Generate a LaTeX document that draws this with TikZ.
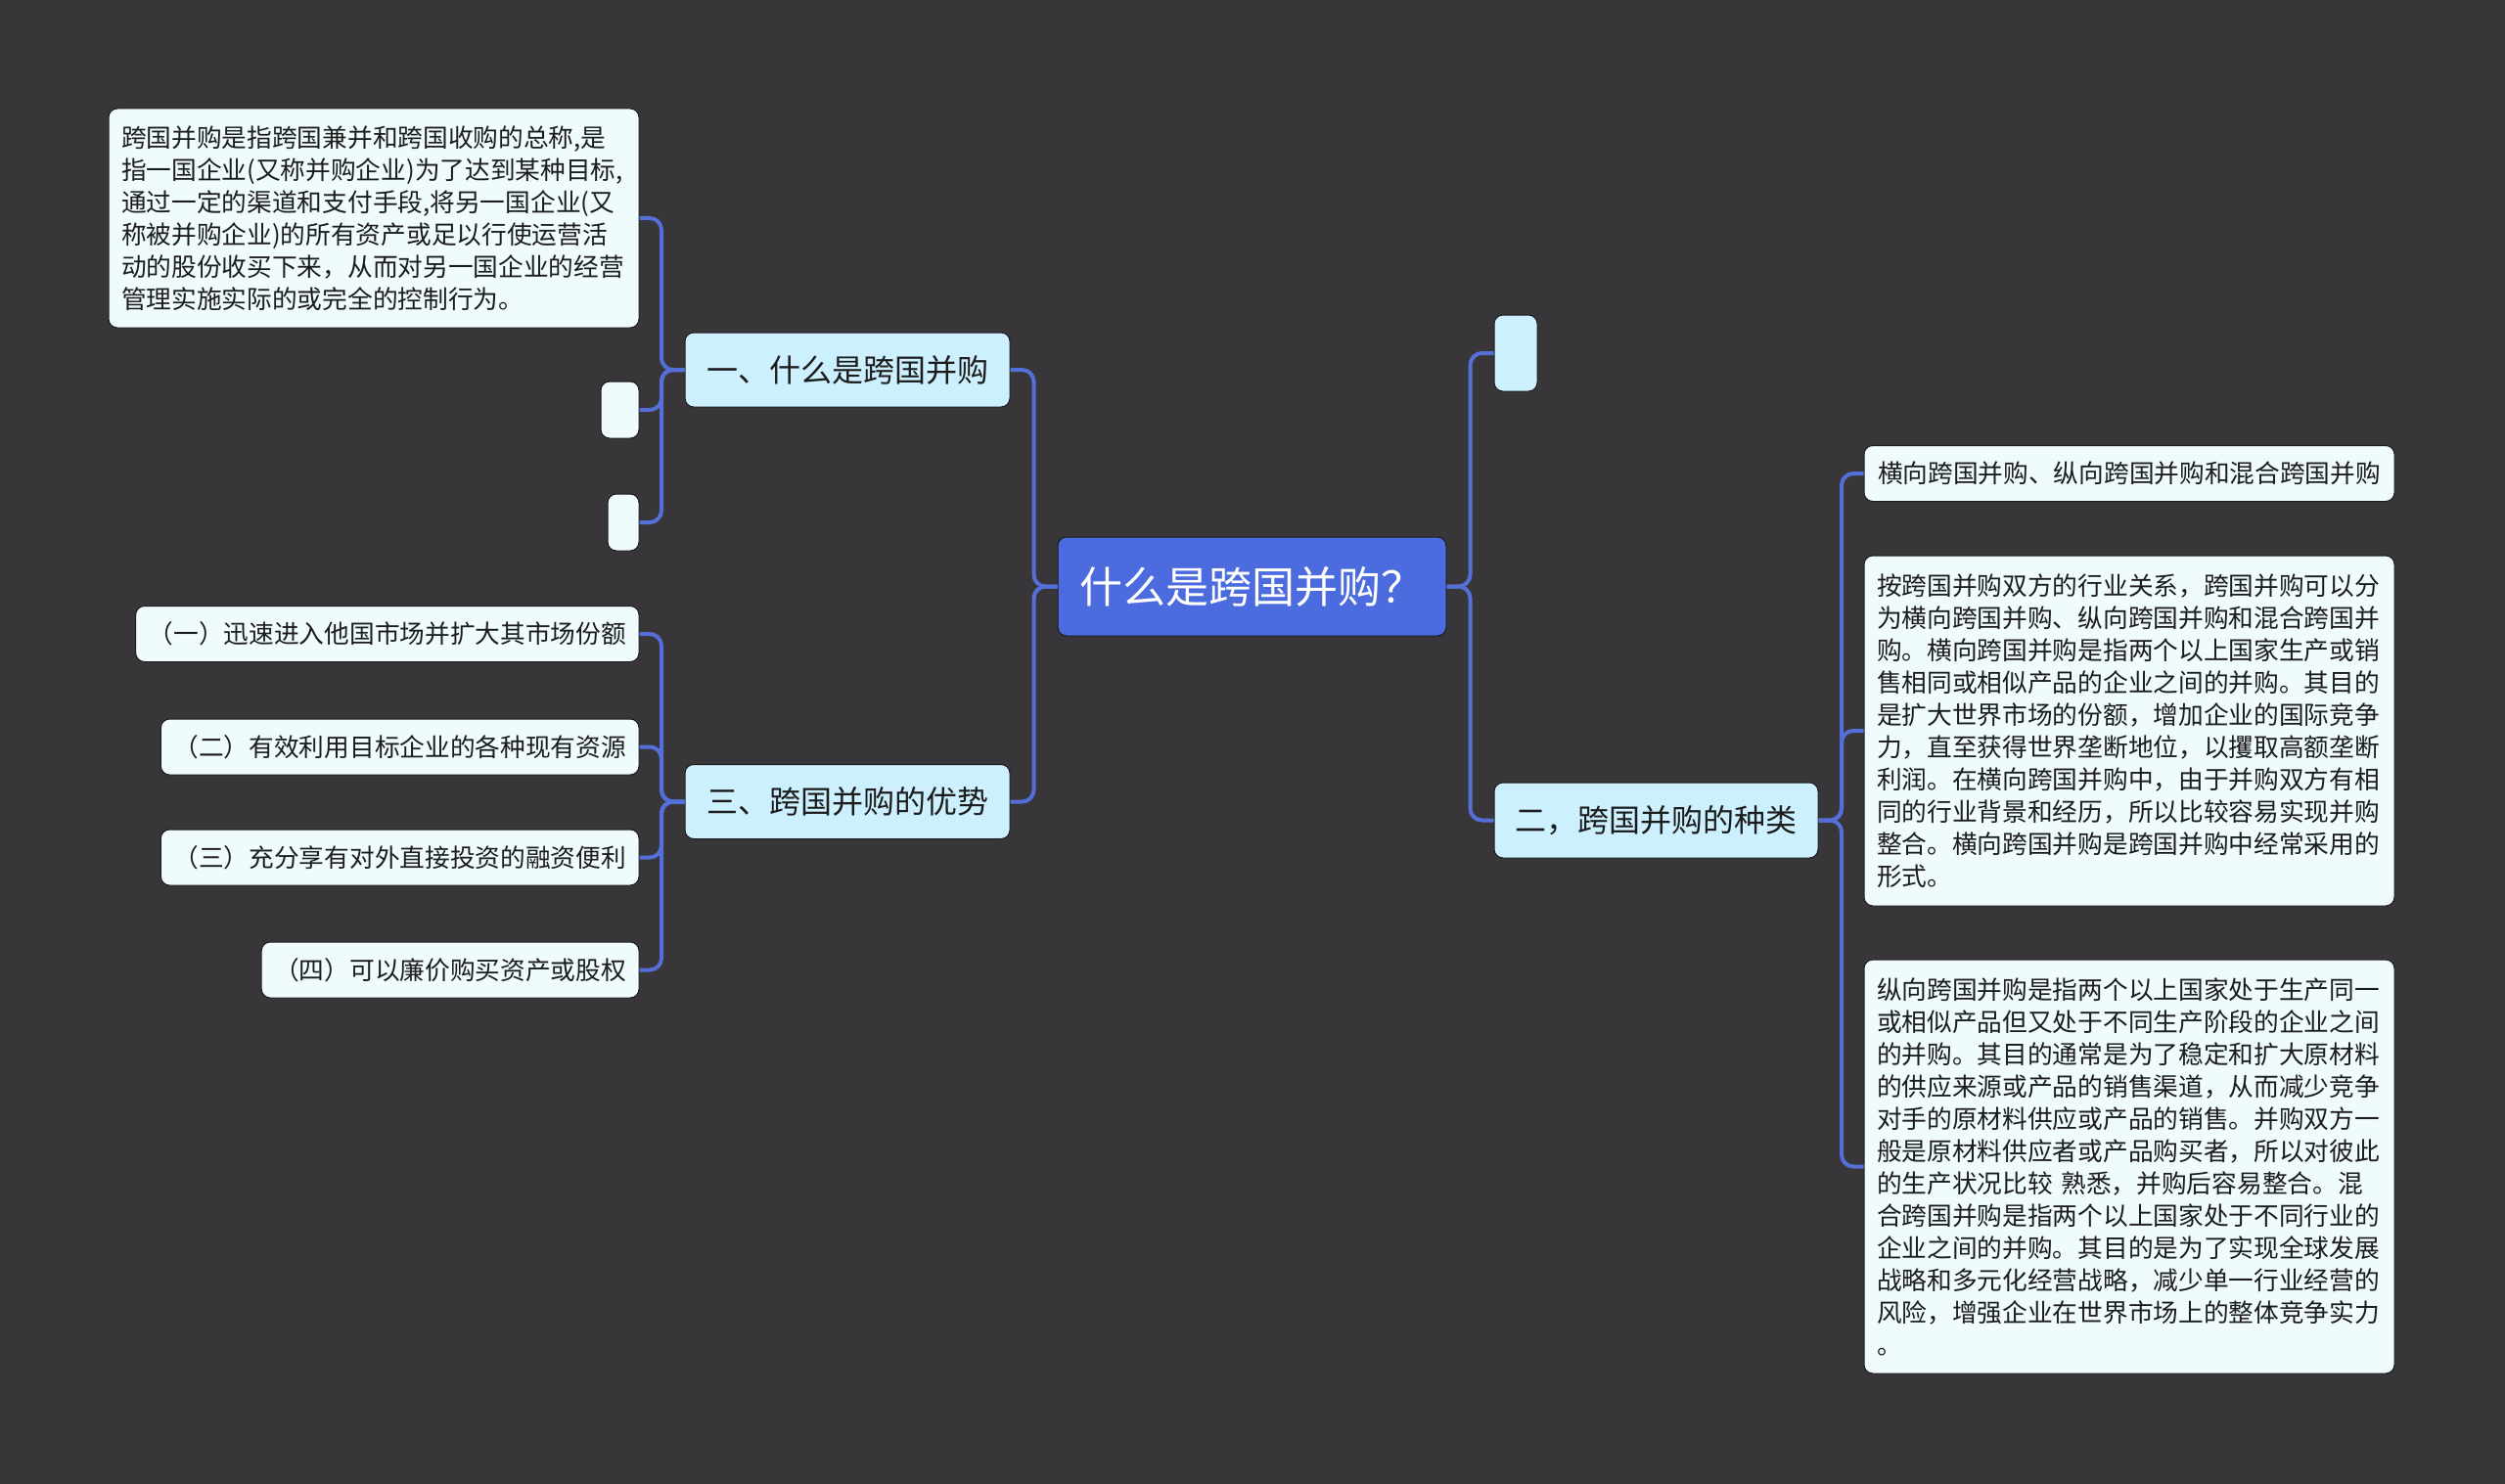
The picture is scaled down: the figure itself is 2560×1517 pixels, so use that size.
\documentclass[tikz,border=0pt]{standalone}
\usepackage{fontspec}
\usepackage{tikz}
\usetikzlibrary{positioning}
\newfontfamily\cjk{Noto Sans CJK SC}
\definecolor{canvas}{HTML}{383639}
\definecolor{rootblue}{HTML}{4B6BDE}
\definecolor{branchfill}{HTML}{CDF0FE}
\definecolor{leaffill}{HTML}{F0FBFD}
\definecolor{linkblue}{HTML}{5470D8}
\definecolor{ink}{HTML}{1C1C1C}

\begin{document}
\begin{tikzpicture}[x=1pt,y=1pt]
    \tikzstyle{box}=[draw=ink, line width=1pt, rounded corners=9pt, inner sep=0pt]
    \tikzstyle{root}=[box, fill=rootblue, text=white, font=\cjk\fontsize{44}{50}\selectfont, minimum width=397pt, minimum height=101pt]
    \tikzstyle{branch}=[box, fill=branchfill, text=ink, font=\cjk\fontsize{32}{38}\selectfont, minimum width=332pt, minimum height=76pt]
    \tikzstyle{leaf}=[box, fill=leaffill, text=ink, font=\cjk\fontsize{25.7}{33}\selectfont, inner xsep=13pt, minimum height=57pt]
    \tikzstyle{note}=[leaf, text width=516pt, align=left]
    \tikzstyle{link}=[linkblue, line width=4pt, rounded corners=12pt]
    \fill[canvas] (0,0) rectangle (2560,-1517);
    \useasboundingbox (0,0) rectangle (2560,-1517);

    % Main
    \node[root] (root) at (1279.5,-599.5) {什么是跨国并购？};

    \node[branch,left=48pt of root,yshift=221.5pt] (what) {一、什么是跨国并购};
    \node[branch,left=48pt of root,yshift=-220pt] (merits) {三、跨国并购的优势};
    \node[branch,minimum width=44pt,minimum height=78pt,right=48pt of root,yshift=238.5pt] (blank) {};
    \node[branch,minimum width=331pt,minimum height=77pt,right=48pt of root,yshift=-239pt] (kinds) {二，跨国并购的种类};

    % What
    \node[note,minimum height=224pt,left=46pt of what,yshift=155pt] (define) {跨国并购是指跨国兼并和跨国收购的总称,是\\指一国企业(又称并购企业)为了达到某种目标,\\通过一定的渠道和支付手段,将另一国企业(又\\称被并购企业)的所有资产或足以行使运营活\\动的股份收买下来，从而对另一国企业的经营\\管理实施实际的或完全的控制行为。};
    \node[leaf,inner xsep=0pt,minimum width=39pt,minimum height=58pt,left=46pt of what,yshift=-41pt] (blanki) {};
    \node[leaf,inner xsep=0pt,minimum width=32pt,minimum height=58pt,left=46pt of what,yshift=-156pt] (blankii) {};

    % Merits
    \node[leaf,left=46pt of merits,yshift=171.5pt] (merit1) {（一）迅速进入他国市场并扩大其市场份额};
    \node[leaf,left=46pt of merits,yshift=56pt] (merit2) {（二）有效利用目标企业的各种现有资源};
    \node[leaf,left=46pt of merits,yshift=-57pt] (merit3) {（三）充分享有对外直接投资的融资便利};
    \node[leaf,left=46pt of merits,yshift=-172pt] (merit4) {（四）可以廉价购买资产或股权};

    % Kinds
    \node[leaf,minimum width=542pt,right=46pt of kinds,yshift=354.5pt] (kindlist) {横向跨国并购、纵向跨国并购和混合跨国并购};
    \node[note,minimum height=358pt,right=46pt of kinds,yshift=91.5pt] (horizontal) {按跨国并购双方的行业关系，跨国并购可以分\\为横向跨国并购、纵向跨国并购和混合跨国并\\购。横向跨国并购是指两个以上国家生产或销\\售相同或相似产品的企业之间的并购。其目的\\是扩大世界市场的份额，增加企业的国际竞争\\力，直至获得世界垄断地位，以攫取高额垄断\\利润。在横向跨国并购中，由于并购双方有相\\同的行业背景和经历，所以比较容易实现并购\\整合。横向跨国并购是跨国并购中经常采用的\\形式。};
    \node[note,minimum height=423pt,right=46pt of kinds,yshift=-354pt] (vertical) {纵向跨国并购是指两个以上国家处于生产同一\\或相似产品但又处于不同生产阶段的企业之间\\的并购。其目的通常是为了稳定和扩大原材料\\的供应来源或产品的销售渠道，从而减少竞争\\对手的原材料供应或产品的销售。并购双方一\\般是原材料供应者或产品购买者，所以对彼此\\的生产状况比较 熟悉，并购后容易整合。混\\合跨国并购是指两个以上国家处于不同行业的\\企业之间的并购。其目的是为了实现全球发展\\战略和多元化经营战略，减少单一行业经营的\\风险，增强企业在世界市场上的整体竞争实力\\。};

    \draw[link] (root.west) -- +(-24,0) |- (what.east);
    \draw[link] (root.west) -- +(-24,0) |- (merits.east);
    \draw[link] (root.east) -- +(24,0) |- (blank.west);
    \draw[link] (root.east) -- +(24,0) |- (kinds.west);

    \draw[link] (what.west) -- +(-23.5,0) |- (define.east);
    \draw[link] (what.west) -- +(-23.5,0) |- (blanki.east);
    \draw[link] (what.west) -- +(-23.5,0) |- (blankii.east);

    \draw[link] (merits.west) -- +(-23.5,0) |- (merit1.east);
    \draw[link] (merits.west) -- +(-23.5,0) |- (merit2.east);
    \draw[link] (merits.west) -- +(-23.5,0) |- (merit3.east);
    \draw[link] (merits.west) -- +(-23.5,0) |- (merit4.east);

    \draw[link] (kinds.east) -- +(23.5,0) |- (kindlist.west);
    \draw[link] (kinds.east) -- +(23.5,0) |- (horizontal.west);
    \draw[link] (kinds.east) -- +(23.5,0) |- (vertical.west);
\end{tikzpicture}
\end{document}
